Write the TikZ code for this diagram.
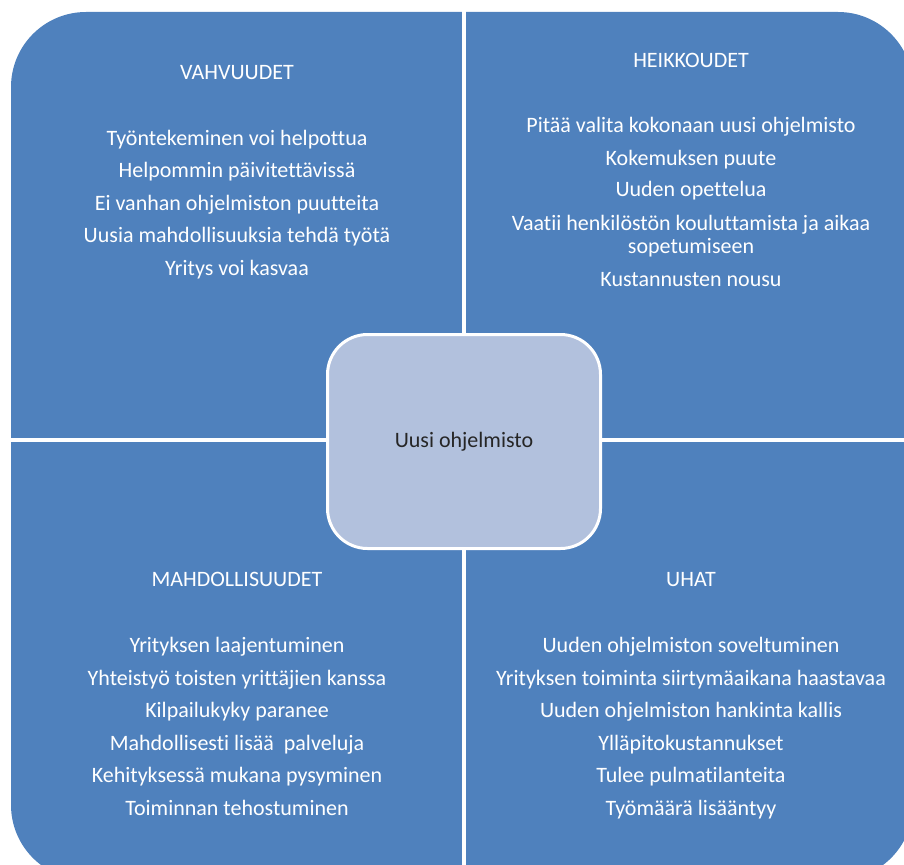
\documentclass[tikz,border=0pt]{standalone}
\usepackage{fontspec}
\setmainfont{Carlito}[Ligatures=CommonOff]
\definecolor{ruutu}{RGB}{79,129,189}
\definecolor{keskus}{RGB}{178,193,221}

\begin{document}
\begin{tikzpicture}[x=1pt, y=-1pt, font=\fontsize{22}{23.3}\selectfont,
  otsikko/.style={anchor=base, text=white, inner sep=0pt},
  kohta/.style={anchor=base, text=white, inner sep=0pt, align=center}]
\useasboundingbox (0,0) rectangle (904,864);
\clip (0,0) rectangle (904,864);
\begin{scope}
  \fill [ruutu, rounded corners=75pt] (11,12) rectangle (913,880);
  \draw [white, line width=3.5pt] (464,0) -- (464,880);
  \draw [white, line width=4pt] (0,440.3) -- (913,440.3);
\end{scope}
\begin{scope}
  \node [otsikko,name=vahvuudet] at (237,80) {VAHVUUDET};
  \node [kohta,name=v1] at (237,145) {Työntekeminen voi helpottua};
  \node [kohta,name=v2] at (237,177.5) {Helpommin päivitettävissä};
  \node [kohta,name=v3] at (237,210) {Ei vanhan ohjelmiston puutteita};
  \node [kohta,name=v4] at (237,242.5) {Uusia mahdollisuuksia tehdä työtä};
  \node [kohta,name=v5] at (237,275) {Yritys voi kasvaa};
\end{scope}
\begin{scope}
  \node [otsikko,name=heikkoudet] at (691,67.7) {HEIKKOUDET};
  \node [kohta,name=h1] at (691,132.7) {Pitää valita kokonaan uusi ohjelmisto};
  \node [kohta,name=h2] at (691,165) {Kokemuksen puute};
  \node [kohta,name=h3] at (691,196.7) {Uuden opettelua};
  % base of a two line node is its last line
  \node [kohta,name=h4] at (691,253.3) {Vaatii henkilöstön kouluttamista ja aikaa\\sopetumiseen};
  \node [kohta,name=h5] at (691,286) {Kustannusten nousu};
\end{scope}
\begin{scope}
  \node [otsikko,name=mahdollisuudet] at (237,586.7) {MAHDOLLISUUDET};
  \node [kohta,name=m1] at (237,652.3) {Yrityksen laajentuminen};
  \node [kohta,name=m2] at (237,685) {Yhteistyö toisten yrittäjien kanssa};
  \node [kohta,name=m3] at (237,717.3) {Kilpailukyky paranee};
  \node [kohta,name=m4] at (237,750) {Mahdollisesti lisää~ palveluja};
  \node [kohta,name=m5] at (237,782.7) {Kehityksessä mukana pysyminen};
  \node [kohta,name=m6] at (237,815) {Toiminnan tehostuminen};
\end{scope}
\begin{scope}
  \node [otsikko,name=uhat] at (691,586.7) {UHAT};
  \node [kohta,name=u1] at (691,652.3) {Uuden ohjelmiston soveltuminen};
  \node [kohta,name=u2] at (691,685) {Yrityksen toiminta siirtymäaikana haastavaa};
  \node [kohta,name=u3] at (691,717.3) {Uuden ohjelmiston hankinta kallis};
  \node [kohta,name=u4] at (691,750) {Ylläpitokustannukset};
  \node [kohta,name=u5] at (691,782.7) {Tulee pulmatilanteita};
  \node [kohta,name=u6] at (691,815) {Työmäärä lisääntyy};
\end{scope}
\node [rounded corners=40pt, fill=keskus, draw=white, line width=3pt,
  minimum width=273pt, minimum height=214pt, text=black!85,
  name=ohjelmisto] at (464,441.5) {Uusi ohjelmisto};
\end{tikzpicture}
\end{document}
